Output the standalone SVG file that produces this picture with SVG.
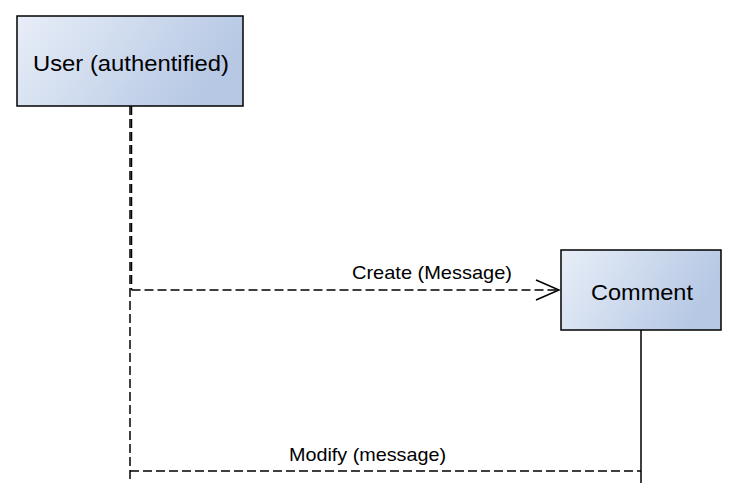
<svg xmlns="http://www.w3.org/2000/svg" width="738" height="502" viewBox="0 0 738 502">
<defs>
<linearGradient id="g" x1="0" y1="0" x2="1" y2="0.3">
<stop offset="0" stop-color="#e8eef8"/>
<stop offset="1" stop-color="#b6c8e4"/>
</linearGradient>
<marker id="open" markerWidth="26" markerHeight="22" refX="24" refY="11" orient="auto" markerUnits="userSpaceOnUse">
<path d="M1,1 L24,11 L1,21" fill="none" stroke="#000" stroke-width="1.5"/>
</marker>
<style>
.box{fill:url(#g);stroke:#000;stroke-width:1.5}
.t{font-family:"Liberation Sans",Arial,sans-serif;fill:#000}
.dash{fill:none;stroke:#000;stroke-width:1.5;stroke-dasharray:9,4}
.solid{fill:none;stroke:#000;stroke-width:1.5}
</style>
</defs>
<rect width="738" height="502" fill="#fff"/>
<g id="connectors">
<path class="dash" d="M130,106 V483"/>
<path class="dash" d="M131.5,106 V290"/>
<path class="dash" d="M131.5,290 H559" marker-end="url(#open)"/>
<text class="t" x="352" y="279" font-size="18.5" textLength="160" lengthAdjust="spacingAndGlyphs">Create (Message)</text>
<path class="solid" d="M641,330 V483"/>
<path class="dash" d="M130,471 H641"/>
<text class="t" x="289" y="461" font-size="19" textLength="157" lengthAdjust="spacingAndGlyphs">Modify (message)</text>
</g>
<g id="user">
<rect class="box" x="17" y="16" width="226" height="90"/>
<text class="t" x="33" y="71" font-size="22" textLength="196" lengthAdjust="spacingAndGlyphs">User (authentified)</text>
</g>
<g id="comment">
<rect class="box" x="561" y="250" width="160" height="80"/>
<text class="t" x="591" y="300" font-size="22" textLength="102" lengthAdjust="spacingAndGlyphs">Comment</text>
</g>
</svg>
